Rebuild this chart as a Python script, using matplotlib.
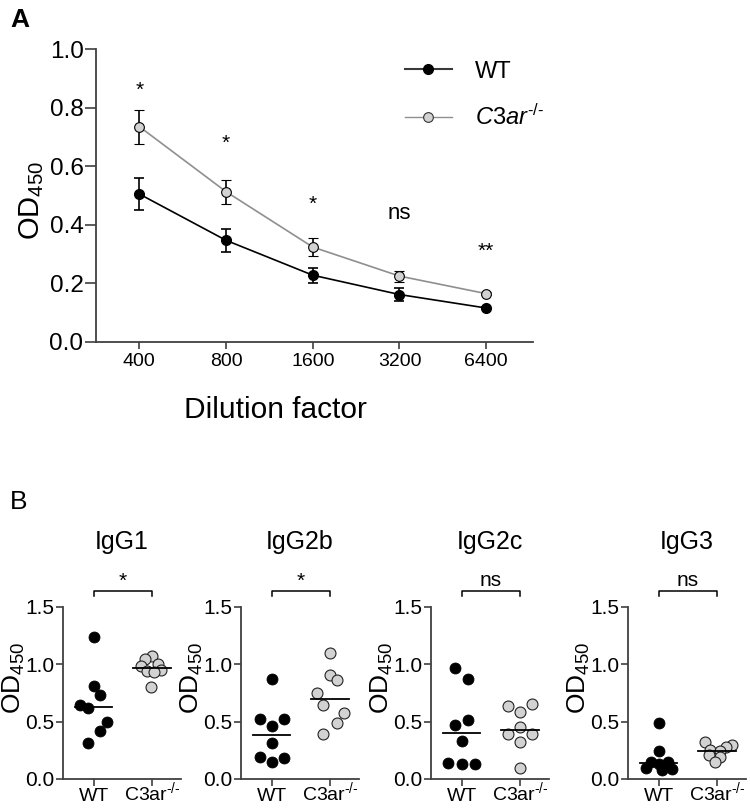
import numpy as np
import matplotlib
matplotlib.use('Agg')
import matplotlib.pyplot as plt
from matplotlib.lines import Line2D

plt.rcParams['font.family'] = ['Liberation Sans', 'DejaVu Sans']
plt.rcParams['mathtext.fontset'] = 'custom'
plt.rcParams['mathtext.rm'] = 'Liberation Sans'
plt.rcParams['mathtext.it'] = 'Liberation Sans:italic'
plt.rcParams['mathtext.default'] = 'regular'

# ---- panel A: titration curves
dilutions = ['400', '800', '1600', '3200', '6400']
wt_mean = [0.505, 0.347, 0.228, 0.162, 0.116]
wt_sem = [0.055, 0.039, 0.026, 0.021, 0.004]
ko_mean = [0.735, 0.513, 0.324, 0.225, 0.165]
ko_sem = [0.058, 0.041, 0.031, 0.019, 0.004]
sig_a = ['*', '*', '*', 'ns', '**']
sig_a_y = [0.86, 0.678, 0.47, 0.44, 0.31]

# ---- panel B: isotypes (individual mice)
isotypes = ['IgG1', 'IgG2b', 'IgG2c', 'IgG3']
sig_b = ['*', '*', 'ns', 'ns']
igg1_wt = [1.24, 0.81, 0.73, 0.645, 0.615, 0.50, 0.42, 0.315]
igg1_ko = [1.075, 1.046, 0.988, 1.0, 0.95, 0.944, 0.93, 0.80]
igg2b_wt = [0.87, 0.525, 0.525, 0.46, 0.31, 0.19, 0.185, 0.15]
igg2b_ko = [1.10, 0.905, 0.865, 0.75, 0.645, 0.578, 0.486, 0.39]
igg2c_wt = [0.965, 0.873, 0.512, 0.474, 0.332, 0.141, 0.127, 0.127]
igg2c_ko = [0.65, 0.633, 0.584, 0.454, 0.396, 0.396, 0.324, 0.093]
igg3_wt = [0.488, 0.247, 0.15, 0.145, 0.13, 0.10, 0.09, 0.08]
igg3_ko = [0.325, 0.30, 0.275, 0.255, 0.24, 0.21, 0.195, 0.15]

# horizontal scatter offsets as laid out in the figure
igg1_wt_dx = [0, 0, 0.115, -0.23, -0.10, 0.23, 0.115, -0.10]
igg1_ko_dx = [0, -0.12, -0.18, 0.10, 0.155, -0.09, 0.04, -0.02]
igg2b_wt_dx = [0, -0.21, 0.21, 0, 0, -0.21, 0.21, 0]
igg2b_ko_dx = [0, 0, 0.115, -0.23, -0.115, 0.24, 0.115, -0.115]
igg2c_wt_dx = [-0.115, 0.115, 0.115, -0.115, 0, -0.23, 0, 0.22]
igg2c_ko_dx = [0.21, -0.21, 0, 0, -0.21, 0.21, 0, 0]
igg3_wt_dx = [0, 0, -0.13, 0.15, 0, -0.22, 0.22, 0.05]
igg3_ko_dx = [-0.20, 0.26, 0.16, -0.12, 0.05, -0.14, 0.05, -0.03]

wt_sets = [igg1_wt, igg2b_wt, igg2c_wt, igg3_wt]
ko_sets = [igg1_ko, igg2b_ko, igg2c_ko, igg3_ko]
wt_dx = [igg1_wt_dx, igg2b_wt_dx, igg2c_wt_dx, igg3_wt_dx]
ko_dx = [igg1_ko_dx, igg2b_ko_dx, igg2c_ko_dx, igg3_ko_dx]

W, H = 750, 809
spine_c = '#404040'
grey = '#d2d2d2'
hy = '\u2010'
ko_label = 'C3ar$^{' + hy + '/' + hy + '}$'
ko_label_it = '$\\mathit{C3ar}^{\\mathit{' + hy + '/' + hy + '}}$'

fig = plt.figure(figsize=(W / 100, H / 100), dpi=100)


def px_axes(left, top, right, bottom):
    return fig.add_axes([left / W, 1 - bottom / H, (right - left) / W, (bottom - top) / H])


def style(ax, lw=1.3):
    for s in ['top', 'right']:
        ax.spines[s].set_visible(False)
    for s in ['left', 'bottom']:
        ax.spines[s].set_color(spine_c)
        ax.spines[s].set_linewidth(lw)


# ================= A
ax = px_axes(96, 49, 533, 342)
style(ax)
x = np.arange(len(dilutions))
ax.errorbar(x, ko_mean, yerr=ko_sem, color='#8f8f8f', lw=1.2, ecolor='black',
            elinewidth=1.2, capsize=3.5, capthick=1.2, marker='o', ms=7,
            mfc=grey, mec='black', mew=0.8, zorder=3)
ax.errorbar(x, wt_mean, yerr=wt_sem, color='black', lw=1.2, ecolor='black',
            elinewidth=1.2, capsize=3.5, capthick=1.2, marker='o', ms=7,
            mfc='black', mec='black', zorder=4)
ax.set_xlim(-0.5, 4.54)
ax.set_ylim(0, 1.0)
ax.set_yticks(np.arange(0, 1.01, 0.2))
ax.set_yticklabels([f'{v:.1f}' for v in np.arange(0, 1.01, 0.2)])
ax.set_xticks(x)
ax.set_xticklabels(dilutions)
ax.tick_params(axis='y', length=8, width=1.2, color=spine_c, labelsize=17.5, pad=1)
ax.tick_params(axis='x', length=5, width=1.2, color=spine_c, labelsize=14, pad=3)
for xi, s, yy in zip(x, sig_a, sig_a_y):
    ax.text(xi, yy, s, ha='center', va='center', fontsize=16 if s == 'ns' else 15)

handles = [Line2D([], [], color='#3a3a3a', lw=1.5, marker='o', ms=7, mfc='black', mec='black'),
           Line2D([], [], color='#8f8f8f', lw=1.0, marker='o', ms=7, mfc=grey, mec='#333333', mew=0.8)]
ax.legend(handles, ['WT', ko_label_it], loc='upper left',
          bbox_to_anchor=(0.706, 0.96), frameon=False, fontsize=17, handlelength=2.0,
          handletextpad=1.0, labelspacing=0.95, borderpad=0, borderaxespad=0)

fig.text(32 / W, 1 - 200 / H, 'OD$_{450}$', rotation=90, ha='center', va='center', fontsize=21)
fig.text(275 / W, 1 - 410 / H, 'Dilution factor', ha='center', va='center', fontsize=21.5)
fig.text(10 / W, 1 - 20 / H, 'A', ha='left', va='center', fontsize=19, fontweight='bold')

# ================= B
fig.text(10 / W, 1 - 502 / H, 'B', ha='left', va='center', fontsize=19)
lefts = [63, 241, 431, 628]
for i, name in enumerate(isotypes):
    l = lefts[i]
    axb = px_axes(l, 607, l + 118, 779)
    style(axb)
    wt = np.array(wt_sets[i])
    ko = np.array(ko_sets[i])
    axb.scatter(0 + np.array(wt_dx[i]), wt, s=62, color='black', edgecolor='black',
                linewidth=0.6, zorder=3, clip_on=False)
    axb.scatter(1 + np.array(ko_dx[i]), ko, s=62, color=grey, edgecolor='#222222',
                linewidth=0.8, zorder=3, clip_on=False)
    axb.plot([-0.32, 0.32], [np.median(wt)] * 2, color='black', lw=1.3, zorder=4)
    axb.plot([0.68, 1.32], [np.median(ko)] * 2, color='black', lw=1.3, zorder=4)
    axb.set_xlim(-0.53, 1.5)
    axb.set_ylim(0, 1.5)
    axb.set_yticks([0, 0.5, 1.0, 1.5])
    axb.set_yticklabels(['0.0', '0.5', '1.0', '1.5'])
    axb.set_xticks([0, 1])
    axb.set_xticklabels(['WT', ko_label])
    axb.tick_params(axis='y', length=5, width=1.2, color=spine_c, labelsize=15, pad=1)
    axb.tick_params(axis='x', length=5, width=1.2, color=spine_c, labelsize=14, pad=10.5)
    for lab in axb.get_xticklabels():
        lab.set_verticalalignment('baseline')
    # significance bracket
    axb.plot([0, 0, 1, 1], [1.60, 1.64, 1.64, 1.60], color='black', lw=1.1, clip_on=False)
    if sig_b[i] == 'ns':
        axb.text(0.5, 1.65, 'ns', ha='center', va='bottom', fontsize=15)
    else:
        axb.text(0.5, 1.72, '*', ha='center', va='center', fontsize=15)
    axb.text(0.5, 1.375, name, transform=axb.transAxes, ha='center', va='center', fontsize=18)
    fig.text((l - 49) / W, 1 - 678 / H, 'OD$_{450}$', rotation=90, ha='center', va='center', fontsize=19)

fig.savefig('out.png', dpi=100)
